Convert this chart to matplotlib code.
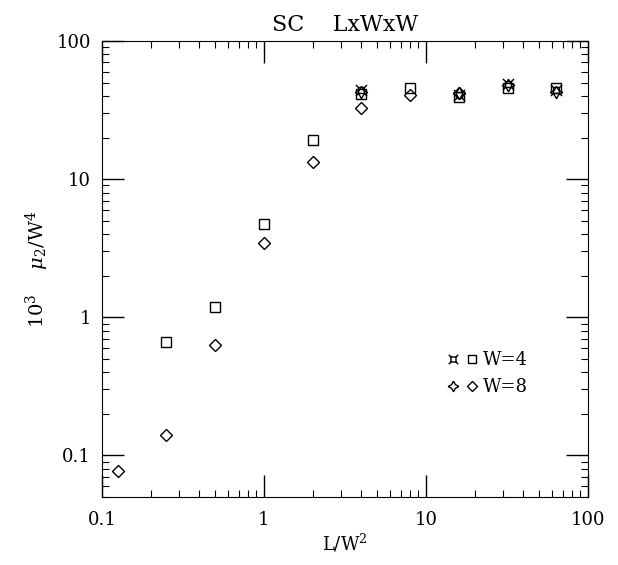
import matplotlib
matplotlib.use("Agg")
import matplotlib.pyplot as plt
from matplotlib.path import Path
from matplotlib.legend_handler import HandlerTuple
from matplotlib.ticker import LogLocator, NullFormatter, FixedLocator, FixedFormatter

plt.rcParams['font.family'] = ['DejaVu Serif']
plt.rcParams['mathtext.fontset'] = 'dejavuserif'

# W=4 data (squares) and alternate (crossed squares)
x_w4 = [0.25, 0.5, 1, 2, 4, 8, 16, 32, 64]
y_w4 = [0.66, 1.18, 4.7, 19.2, 41.3, 46, 39.5, 46, 46]
x_w4b = [4, 16, 32, 64]
y_w4b = [44, 41, 49, 44]
# W=8 data (diamonds) and alternate (stars)
x_w8 = [0.125, 0.25, 0.5, 1, 2, 4, 8, 16]
y_w8 = [0.0766, 0.14, 0.63, 3.43, 13.3, 32.7, 40.5, 42]
x_w8b = [4, 16, 32, 64]
y_w8b = [43, 42, 48, 43]

xticks = [0.1, 1, 10, 100]
xticklabels = ['0.1', '1', '10', '100']
yticks = [0.1, 1, 10, 100]
yticklabels = ['0.1', '1', '10', '100']

# custom crossed-square marker
s = 0.5
t = 0.95
verts = [(-s, -s), (s, -s), (s, s), (-s, s), (-s, -s),
         (s, s), (t, t), (-s, s), (-t, t), (-s, -s), (-t, -t), (s, -s), (t, -t)]
codes = [Path.MOVETO, Path.LINETO, Path.LINETO, Path.LINETO, Path.CLOSEPOLY,
         Path.MOVETO, Path.LINETO, Path.MOVETO, Path.LINETO, Path.MOVETO, Path.LINETO,
         Path.MOVETO, Path.LINETO]
crossed = Path(verts, codes)

fig = plt.figure(figsize=(6.18, 5.65), dpi=100)
ax = fig.add_axes([0.165, 0.1204, 0.786, 0.8070])
ax.set_xscale('log')
ax.set_yscale('log')
ax.set_xlim(0.1, 100)
ax.set_ylim(0.05, 100)

kw = dict(linestyle='none', color='black', markerfacecolor='none', markeredgewidth=1.0)
h1, = ax.plot(x_w4, y_w4, marker='s', markersize=6.5, **kw)
h2, = ax.plot(x_w4b, y_w4b, marker=crossed, markersize=8, **kw)
h3, = ax.plot(x_w8, y_w8, marker='D', markersize=6.0, **kw)
h4, = ax.plot(x_w8b, y_w8b, marker=(4, 1, 0), markersize=9, **kw)

ax.xaxis.set_major_locator(FixedLocator(xticks))
ax.xaxis.set_major_formatter(FixedFormatter(xticklabels))
ax.yaxis.set_major_locator(FixedLocator(yticks))
ax.yaxis.set_major_formatter(FixedFormatter(yticklabels))
ax.xaxis.set_minor_locator(LogLocator(base=10, subs=range(2, 10)))
ax.yaxis.set_minor_locator(LogLocator(base=10, subs=range(2, 10)))
ax.xaxis.set_minor_formatter(NullFormatter())
ax.yaxis.set_minor_formatter(NullFormatter())
ax.tick_params(which='both', direction='in', top=True, right=True, labelsize=13)
ax.tick_params(which='major', length=16, width=1)
ax.tick_params(which='minor', length=5, width=0.8)
ax.tick_params(axis='x', pad=10)
ax.tick_params(axis='y', pad=8)

ax.set_title('SC    LxWxW', fontsize=16, pad=7)
ax.set_xlabel(r'L/W$^2$', fontsize=13, labelpad=2)
ax.set_ylabel(r'10$^3$    $\mu_2$/W$^4$', fontsize=14, labelpad=4)

leg = ax.legend([(h2, h1), (h4, h3)], ['W=4', 'W=8'],
                handler_map={tuple: HandlerTuple(ndivide=None, pad=0.5)},
                loc='center left', bbox_to_anchor=(0.68, 0.27), frameon=False,
                fontsize=13, handlelength=1.6, handletextpad=0.3, labelspacing=0.5,
                markerscale=0.85)

fig.savefig('out.png', dpi=100)
